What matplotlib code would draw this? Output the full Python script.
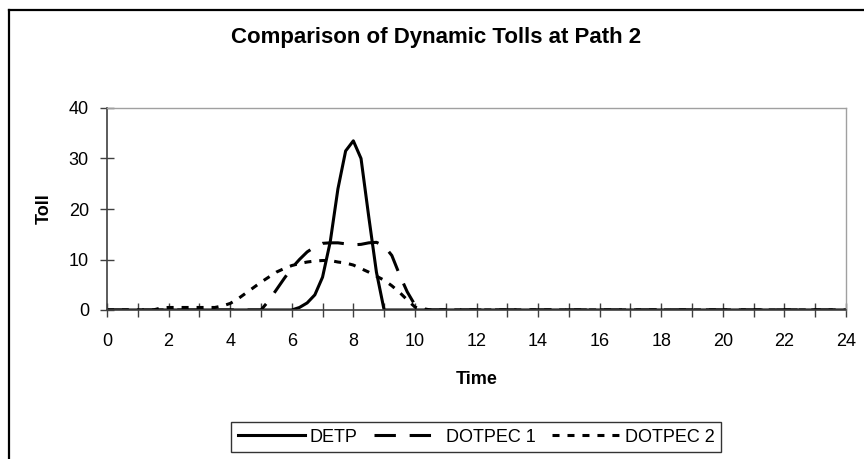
import numpy as np
import matplotlib
matplotlib.use("Agg")
import matplotlib.pyplot as plt
from matplotlib.ticker import MultipleLocator
from matplotlib.lines import Line2D

plt.rcParams['font.family'] = ['Liberation Sans', 'DejaVu Sans']

# ---- data (time in hours, toll) ----
detp_t = [0, 6.0, 6.25, 6.5, 6.75, 7.0, 7.25, 7.5, 7.75, 8.0, 8.25, 8.5, 8.75, 9.0, 24]
detp_y = [0, 0.0, 0.5, 1.4, 3.0, 6.5, 13.5, 24.0, 31.5, 33.5, 30.0, 18.5, 7.5, 0.0, 0]

dot1_t = [0, 5.0, 5.25, 5.5, 5.75, 6.0, 6.25, 6.5, 6.75, 7.0, 7.25, 7.5, 7.75,
          8.0, 8.25, 8.5, 8.75, 9.0, 9.25, 9.5, 9.75, 10.0, 10.25, 10.5, 24]
dot1_y = [0, 0.0, 1.8, 4.0, 6.2, 8.3, 10.0, 11.5, 12.5, 13.2, 13.3, 13.3, 13.1,
          12.9, 13.0, 13.3, 13.4, 12.7, 10.8, 7.0, 3.6, 1.0, 0.3, 0.0, 0]

dot2_t = [0, 1.5, 1.75, 2.0, 2.5, 3.0, 3.5, 3.75, 4.0, 4.25, 4.5, 4.75, 5.0, 5.25,
          5.5, 5.75, 6.0, 6.25, 6.5, 6.75, 7.0, 7.25, 7.5, 7.75, 8.0, 8.25,
          8.5, 8.75, 9.0, 9.25, 9.5, 9.75, 10.0, 10.25, 24]
dot2_y = [0, 0.0, 0.4, 0.5, 0.5, 0.5, 0.5, 0.8, 1.3, 2.2, 3.3, 4.4, 5.5, 6.5,
          7.5, 8.2, 8.8, 9.2, 9.5, 9.7, 9.8, 9.8, 9.5, 9.3, 8.9, 8.2,
          7.5, 6.7, 5.9, 4.8, 3.5, 2.0, 0.6, 0.0, 0]

labels = ['DETP', 'DOTPEC 1', 'DOTPEC 2']
# ------------------------------------------------------------

W, H = 864, 459
fs = 13
fig = plt.figure(figsize=(W / 100, H / 100), dpi=100)
ax = fig.add_axes([107 / W, 1 - 310 / H, (846 - 107) / W, (310 - 108) / H])

lw = 2.2
ax.plot(detp_t, detp_y, color='black', lw=lw, ls='-', label=labels[0])
ax.plot(dot1_t, dot1_y, color='black', lw=lw, ls=(0, (7, 4.5)),
        dash_capstyle='butt', label=labels[1])
ax.plot(dot2_t, dot2_y, color='black', lw=lw, ls=(0, (2.3, 2.6)),
        dash_capstyle='butt', label=labels[2])

ax.set_xlim(0, 24)
ax.set_ylim(0, 40)
ax.xaxis.set_major_locator(MultipleLocator(2))
ax.xaxis.set_minor_locator(MultipleLocator(1))
ax.yaxis.set_major_locator(MultipleLocator(10))

ax.tick_params(axis='both', which='both', direction='inout', length=10,
               width=1, color='#404040', labelsize=fs)
ax.tick_params(axis='x', which='major', pad=11.5)
ax.tick_params(axis='y', which='major', pad=8)

for s in ['left', 'bottom']:
    ax.spines[s].set_color('#404040')
    ax.spines[s].set_linewidth(1.2)
for s in ['top', 'right']:
    ax.spines[s].set_color('#a0a0a0')
    ax.spines[s].set_linewidth(1.0)

ax.set_xlabel('Time', fontsize=fs, fontweight='bold')
ax.set_ylabel('Toll', fontsize=fs, fontweight='bold')
ax.xaxis.set_label_coords(0.5, (310 - 379) / 202, transform=ax.transAxes)
ax.xaxis.label.set_va('center')
ax.yaxis.set_label_coords((44 - 107) / 739, 0.5, transform=ax.transAxes)
ax.yaxis.label.set_va('center')

fig.text(436 / W, 1 - 38 / H, 'Comparison of Dynamic Tolls at Path 2',
         ha='center', va='center', fontsize=16, fontweight='bold')

leg = fig.legend(loc='center', bbox_to_anchor=(476 / W, 1 - 437 / H), ncol=3,
                 frameon=True, fancybox=False, edgecolor='black', fontsize=fs,
                 handlelength=3.7, handletextpad=0.3, columnspacing=0.9,
                 borderpad=0.35, borderaxespad=0)
leg.get_frame().set_linewidth(1.0)

# chart-area border (top and left visible in the reference)
yt = 1 - 9.5 / H
xl = 9 / W
fig.add_artist(Line2D([xl, 1], [yt, yt], color='black', lw=1.6))
fig.add_artist(Line2D([xl, xl], [0, yt], color='black', lw=1.6))

fig.savefig('out.png', dpi=100)
